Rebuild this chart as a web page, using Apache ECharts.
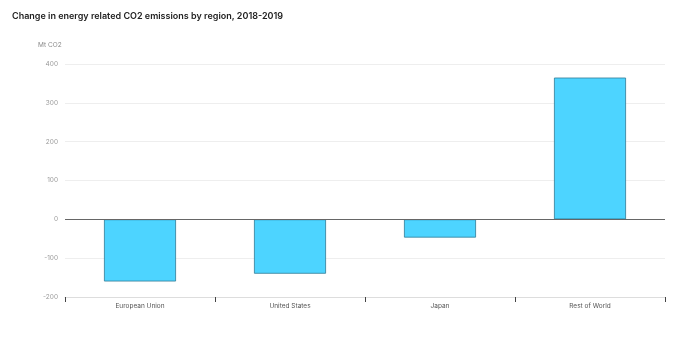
<!DOCTYPE html>
<html><head><meta charset="utf-8">
<script src="https://cdn.jsdelivr.net/npm/echarts@6/dist/echarts.min.js"></script>
<style>html,body{margin:0;padding:0;background:#fff}#c{width:680px;height:349px}</style>
</head><body><div id="c"></div>
<script>
const categories = ["European Union", "United States", "Japan", "Rest of World"];
const values = [-160, -140, -47, 365];
const yTicks = { min: -200, max: 400, interval: 100 };

const chart = echarts.init(document.getElementById('c'));
chart.setOption({
  animation: false,
  textStyle: { fontFamily: 'Inter, "Open Sans", sans-serif' },
  title: {
    text: 'Change in energy related CO2 emissions by region, 2018-2019',
    left: 7, top: 7,
    textStyle: { fontSize: 9, fontWeight: 600, color: '#222', fontFamily: 'Inter, sans-serif' }
  },
  graphic: [{
    type: 'text', left: 38, top: 42,
    style: { text: 'Mt CO2', fontSize: 6.5, fill: '#888', fontFamily: 'Inter, sans-serif' }
  }],
  grid: { left: 65, right: 15, top: 64, bottom: 52 },
  xAxis: {
    type: 'category', data: categories,
    axisLine: { onZero: false, lineStyle: { color: '#ddd', width: 1 } },
    axisTick: { show: true, length: 5, lineStyle: { color: '#444' } },
    axisLabel: { fontSize: 6.5, color: '#555', margin: 6 }
  },
  yAxis: {
    type: 'value', min: yTicks.min, max: yTicks.max, interval: yTicks.interval,
    axisLine: { show: false }, axisTick: { show: false },
    axisLabel: { fontSize: 6.5, color: '#999', margin: 7 },
    splitLine: { lineStyle: { color: '#eee' } }
  },
  series: [{
    type: 'bar', data: values, barWidth: '48%',
    itemStyle: { color: '#4dd4ff', borderColor: '#2e7b96', borderWidth: 0.8 },
    markLine: {
      silent: true, symbol: 'none', label: { show: false },
      lineStyle: { color: '#666', type: 'solid', width: 1 },
      data: [{ yAxis: 0 }]
    }
  }]
});
</script></body></html>
